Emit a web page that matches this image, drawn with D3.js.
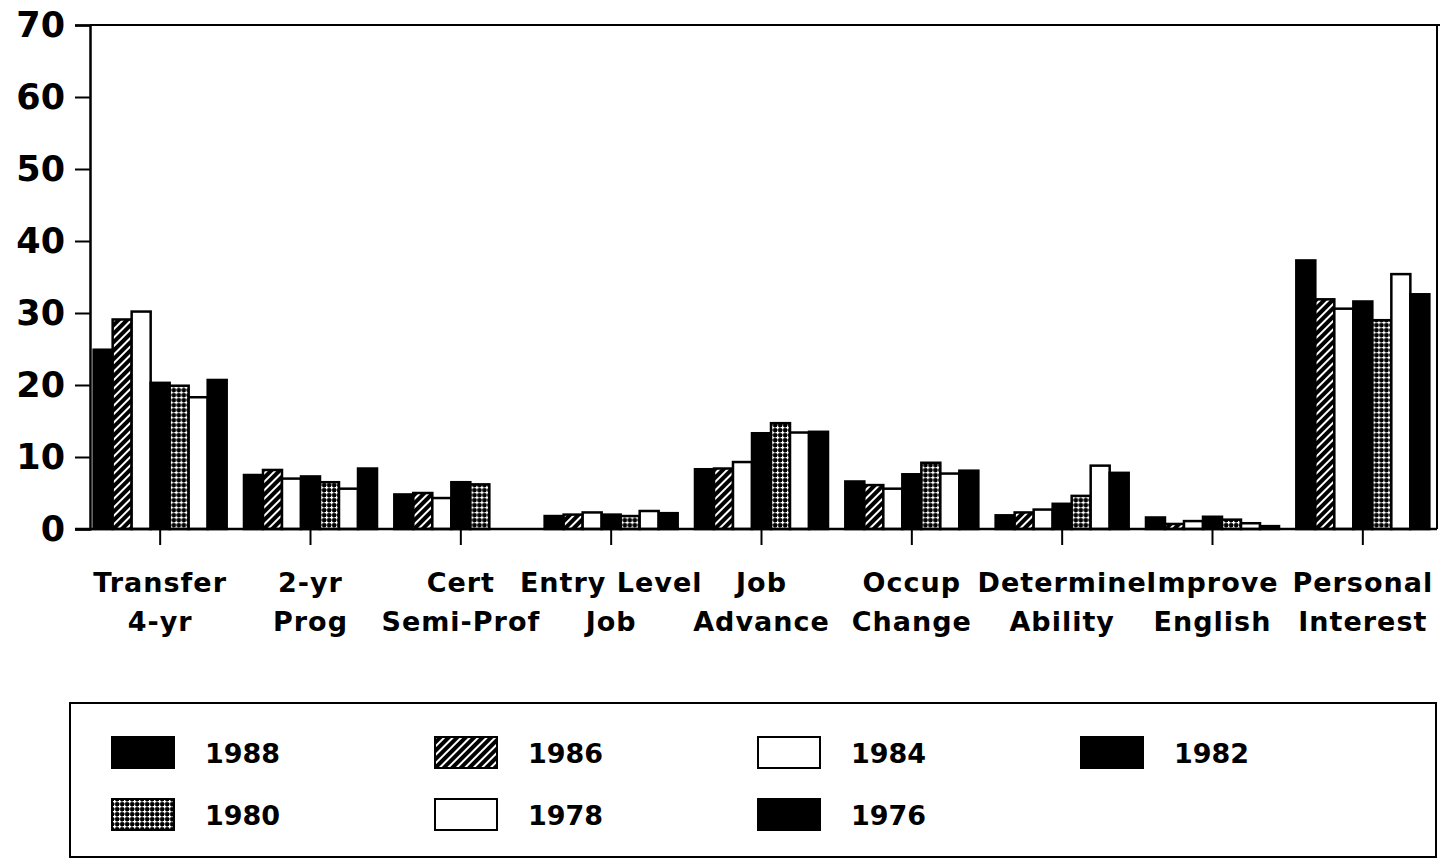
<!DOCTYPE html>
<html>
<head>
<meta charset="utf-8">
<script src="https://cdn.jsdelivr.net/npm/d3@7"></script>
<style>
  body { margin: 0; background: #fff; }
  svg text { font-family: "DejaVu Sans", "Liberation Sans", sans-serif; font-weight: bold; fill: #000; }
</style>
</head>
<body>
<svg id="chart" width="1440" height="862"></svg>
<script>
let categories = [
  ["Transfer", "4-yr"], ["2-yr", "Prog"], ["Cert", "Semi-Prof"],
  ["Entry Level", "Job"], ["Job", "Advance"], ["Occup", "Change"],
  ["Determine", "Ability"], ["Improve", "English"], ["Personal", "Interest"]
]
let years = ["1988", "1986", "1984", "1982", "1980", "1978", "1976"]
let yTicks = [0, 10, 20, 30, 40, 50, 60, 70]

// one array per year, in category order
let v1988 = [24.9, 7.5, 4.8, 1.8, 8.3, 6.6, 1.9, 1.6, 37.3]
let v1986 = [29.1, 8.2, 5.0, 2.0, 8.4, 6.1, 2.3, 0.7, 31.9]
let v1984 = [30.2, 7.0, 4.3, 2.3, 9.3, 5.6, 2.7, 1.1, 30.6]
let v1982 = [20.3, 7.3, 6.5, 2.0, 13.3, 7.6, 3.5, 1.7, 31.6]
let v1980 = [19.9, 6.5, 6.2, 1.8, 14.7, 9.2, 4.6, 1.3, 29.0]
let v1978 = [18.3, 5.6, 0, 2.5, 13.4, 7.7, 8.8, 0.8, 35.4]
let v1976 = [20.7, 8.4, 0, 2.2, 13.5, 8.1, 7.8, 0.4, 32.6]

let series = {"1988": v1988, "1986": v1986, "1984": v1984, "1982": v1982,
              "1980": v1980, "1978": v1978, "1976": v1976}
let fills = {"1988": "#000", "1986": "url(#hatch)", "1984": "#fff", "1982": "#000",
             "1980": "url(#grid)", "1978": "#fff", "1976": "#000"}

let margin = {top: 25, bottom: 529, left: 90, right: 1437}

let svg = d3.select("#chart")
let defs = svg.append("defs")

let hatch = defs.append("pattern").attr("id", "hatch")
    .attr("patternUnits", "userSpaceOnUse").attr("width", 6).attr("height", 6)
    .attr("patternTransform", "rotate(45)")
hatch.append("rect").attr("width", 6).attr("height", 6).attr("fill", "#000")
hatch.append("rect").attr("x", 0).attr("y", 0).attr("width", 2).attr("height", 6).attr("fill", "#fff")

let grid = defs.append("pattern").attr("id", "grid")
    .attr("patternUnits", "userSpaceOnUse").attr("width", 5).attr("height", 5)
grid.append("rect").attr("width", 5).attr("height", 5).attr("fill", "#000")
grid.append("rect").attr("x", 2).attr("y", 0.5).attr("width", 1.3).attr("height", 4).attr("fill", "#fff")
grid.append("rect").attr("x", 0.5).attr("y", 2).attr("width", 4).attr("height", 1.3).attr("fill", "#fff")

let x0 = d3.scaleBand().domain(d3.range(categories.length)).range([85, 1438])
    .paddingInner(0.115).paddingOuter(0.0575)
let x1 = d3.scaleBand().domain(years).range([0, x0.bandwidth()])
let y = d3.scaleLinear().domain([0, 70]).range([margin.bottom, margin.top])

// frame
svg.append("line").attr("x1", margin.left).attr("x2", 1440).attr("y1", margin.top).attr("y2", margin.top)
    .attr("stroke", "#000").attr("stroke-width", 2)
svg.append("line").attr("x1", margin.right).attr("x2", margin.right).attr("y1", margin.top).attr("y2", margin.bottom)
    .attr("stroke", "#000").attr("stroke-width", 2)

// bars
let groups = svg.append("g").selectAll("g")
    .data(categories)
    .enter().append("g")
    .attr("transform", (d, i) => "translate(" + x0(i) + ",0)")

groups.selectAll("rect")
    .data((d, i) => years.map(yr => ({year: yr, value: series[yr][i]})).filter(d => d.value > 0))
    .enter().append("rect")
    .attr("x", d => x1(d.year))
    .attr("y", d => y(d.value))
    .attr("width", x1.bandwidth())
    .attr("height", d => y(0) - y(d.value))
    .attr("fill", d => fills[d.year])
    .attr("stroke", "#000")
    .attr("stroke-width", 2.5)

// y axis
let yAxis = svg.append("g")
    .attr("transform", "translate(" + margin.left + ",0)")
    .call(d3.axisLeft(y).tickValues(yTicks).tickSize(15).tickPadding(10))
yAxis.select(".domain").attr("stroke-width", 2.5)
yAxis.selectAll(".tick line").attr("stroke-width", 2)
yAxis.selectAll(".tick text").attr("font-size", 35).attr("font-family", null)

// x axis
let xAxis = svg.append("g")
    .attr("transform", "translate(0," + margin.bottom + ")")
xAxis.append("line").attr("x1", 75).attr("x2", margin.right).attr("y1", 0).attr("y2", 0)
    .attr("stroke", "#000").attr("stroke-width", 2.5)
xAxis.selectAll("line.tk")
    .data(categories)
    .enter().append("line")
    .attr("class", "tk")
    .attr("x1", (d, i) => x0(i) + x0.bandwidth() / 2)
    .attr("x2", (d, i) => x0(i) + x0.bandwidth() / 2)
    .attr("y1", 0).attr("y2", 16)
    .attr("stroke", "#000").attr("stroke-width", 2)

let labels = svg.append("g").selectAll("text")
    .data(categories)
    .enter().append("text")
    .attr("text-anchor", "middle")
    .attr("font-size", 27)
    .attr("letter-spacing", 1)
labels.append("tspan")
    .attr("x", (d, i) => x0(i) + x0.bandwidth() / 2)
    .attr("y", 592)
    .text(d => d[0])
labels.append("tspan")
    .attr("x", (d, i) => x0(i) + x0.bandwidth() / 2)
    .attr("y", 631)
    .text(d => d[1])

// legend
svg.append("rect").attr("x", 70).attr("y", 703).attr("width", 1366).attr("height", 154)
    .attr("fill", "none").attr("stroke", "#000").attr("stroke-width", 2)

let legend = svg.append("g").selectAll("g")
    .data(years)
    .enter().append("g")
    .attr("transform", (d, i) => "translate(" + (112 + (i % 4) * 323) + "," + (i < 4 ? 737 : 799) + ")")
legend.append("rect")
    .attr("width", 62).attr("height", 31)
    .attr("fill", d => fills[d])
    .attr("stroke", "#000").attr("stroke-width", 2)
legend.append("text")
    .attr("x", 93).attr("y", 16).attr("dy", "0.36em")
    .attr("font-size", 27)
    .text(d => d)
</script>
</body>
</html>
